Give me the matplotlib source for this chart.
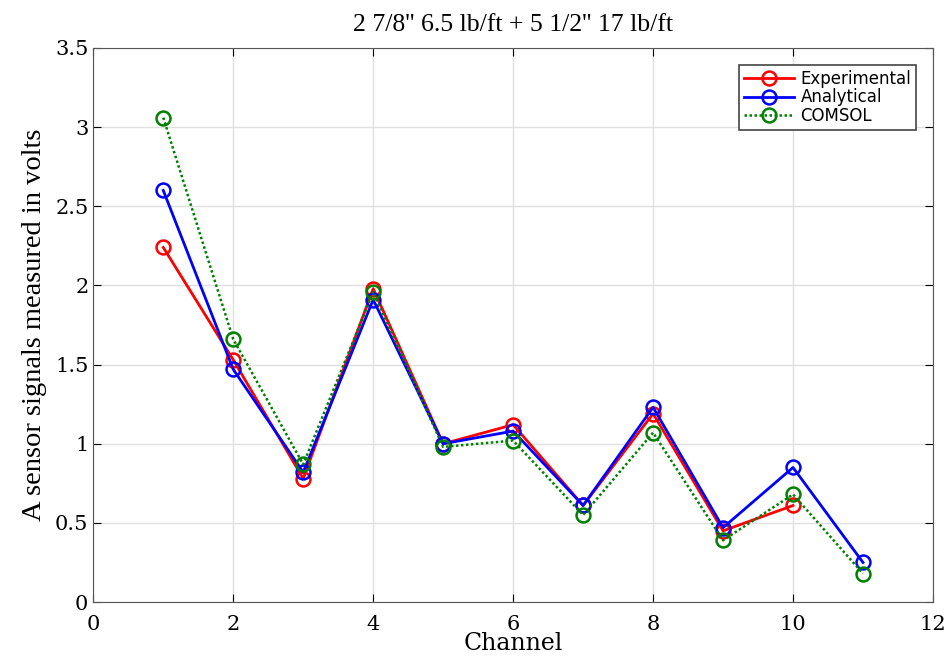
import matplotlib.pyplot as plt
from matplotlib.ticker import FormatStrFormatter

channels = [1, 2, 3, 4, 5, 6, 7, 8, 9, 10, 11]
experimental = [2.24, 1.53, 0.78, 1.98, 1.00, 1.12, 0.61, 1.19, 0.45, 0.61]
analytical = [2.60, 1.47, 0.82, 1.91, 1.00, 1.08, 0.61, 1.23, 0.47, 0.85, 0.25]
comsol = [3.06, 1.66, 0.87, 1.96, 0.98, 1.02, 0.55, 1.07, 0.39, 0.68, 0.18]

serif = ['Liberation Serif', 'DejaVu Serif']
dserif = ['DejaVu Serif']

fig = plt.figure(figsize=(9.52, 6.66), dpi=100)
ax = fig.add_axes([0.098, 0.096, 0.882, 0.832])

ax.plot(channels[:len(experimental)], experimental, color='red', lw=2, marker='o',
        ms=10, mfc='none', mew=1.8, label='Experimental')
ax.plot(channels, analytical, color='blue', lw=2, marker='o',
        ms=10, mfc='none', mew=1.8, label='Analytical')
ax.plot(channels, comsol, color='green', lw=1.8, ls=(0, (1, 1)), marker='o',
        ms=10, mfc='none', mew=1.8, label='COMSOL')

ax.set_xlim(0, 12)
ax.set_ylim(0, 3.5)
ax.set_xticks(range(0, 13, 2))
ax.set_yticks([0, 0.5, 1, 1.5, 2, 2.5, 3, 3.5])
ax.yaxis.set_major_formatter(FormatStrFormatter('%g'))
ax.grid(True, color='#e0e0e0', lw=1)
ax.tick_params(direction='in', top=True, right=True, length=6, labelsize=15)
ax.tick_params(axis='x', pad=9)
for lbl in ax.get_xticklabels() + ax.get_yticklabels():
    lbl.set_family(dserif)
for s in ax.spines.values():
    s.set_color('#555555')

ax.set_xlabel('Channel', family=dserif, fontsize=17, labelpad=-1)
ax.set_ylabel('A sensor signals measured in volts', family=serif, fontsize=20.5, labelpad=6)
ax.set_title("2 7/8'' 6.5 lb/ft + 5 1/2'' 17 lb/ft", family=serif, fontsize=18.5, pad=12)

leg = ax.legend(loc='upper right', fontsize=12, fancybox=False, edgecolor='#444444',
                framealpha=1, borderpad=0.3, labelspacing=0.05, handlelength=3.0,
                handletextpad=0.4, bbox_to_anchor=(0.99, 0.985))
leg.get_frame().set_linewidth(1.2)

plt.savefig('out.png', dpi=100)
